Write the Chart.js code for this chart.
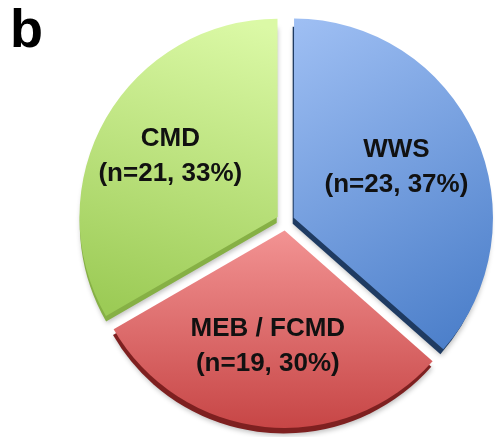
<!DOCTYPE html>
<html lang="en">
<head>
  <meta charset="UTF-8">
  <title>Pie b</title>
  <style>
    body {
      margin: 0;
      background: #fff;
    }

    .wrap {
      position: relative;
      width: 495px;
      height: 437px;
    }

    .panel-letter {
      position: absolute;
      left: 10px;
      top: -3px;
      font-family: 'Liberation Sans', Arial, sans-serif;
      font-weight: bold;
      font-size: 54px;
      color: #000;
    }
  </style>
</head>
<body>
  <div class="wrap">
    <canvas id="pie" width="495" height="437"></canvas>
    <div class="panel-letter">b</div>
  </div>

  <script src="https://cdn.jsdelivr.net/npm/chart.js"></script>
  <script>
    // data
    const categories = ['WWS', 'MEB / FCMD', 'CMD'];
    const counts = [23, 19, 21];
    const percents = [37, 30, 33];

    // colours: light (top) -> dark (bottom), and the side of each slice
    const lightColors = ['#a0c0f4', '#f39494', '#dbf9a6'];
    const darkColors = ['#4479c6', '#c64444', '#9ccb56'];
    const sideColors = ['#1f3b62', '#7e2020', '#86b045'];

    // chart.js v4 moves a slice by offset / 4
    const SLICE_OFFSET = 36;

    function sliceGradient(context) {
      const chart = context.chart;
      const area = chart.chartArea;
      if (!area) return lightColors[context.dataIndex];
      const i = context.dataIndex;
      let g;
      if (i === 0) {
        g = chart.ctx.createLinearGradient(area.left + 200, area.top, area.right, area.bottom - 60);
      } else if (i === 1) {
        g = chart.ctx.createLinearGradient(0, area.top + 200, 0, area.bottom);
      } else {
        g = chart.ctx.createLinearGradient(area.left + 150, area.top, area.left + 60, area.top + 300);
      }
      g.addColorStop(0, lightColors[i]);
      g.addColorStop(1, darkColors[i]);
      return g;
    }

    function sliceCenter(arc) {
      const p = arc.getProps(['x', 'y', 'startAngle', 'endAngle', 'outerRadius']);
      const off = (arc.options.offset || 0) / 4;
      const mid = (p.startAngle + p.endAngle) / 2;
      return {
        x: p.x + Math.cos(mid) * off,
        y: p.y + Math.sin(mid) * off,
        mid: mid,
        p: p
      };
    }

    // the darker side under each slice (3D look) and the labels
    const depthPlugin = {
      id: 'depth',
      beforeDatasetsDraw(chart) {
        const ctx = chart.ctx;
        const meta = chart.getDatasetMeta(0);
        meta.data.forEach((arc, i) => {
          const c = sliceCenter(arc);
          const cx = c.x - 1;
          const cy = c.y + 6;
          ctx.save();
          ctx.shadowColor = 'rgba(0,0,0,0.25)';
          ctx.shadowBlur = 5;
          ctx.shadowOffsetX = 1;
          ctx.shadowOffsetY = 2;
          ctx.beginPath();
          ctx.moveTo(cx, cy);
          ctx.arc(cx, cy, c.p.outerRadius, c.p.startAngle, c.p.endAngle);
          ctx.closePath();
          ctx.fillStyle = sideColors[i];
          ctx.fill();
          ctx.restore();
        });
      },
      afterDatasetsDraw(chart) {
        const ctx = chart.ctx;
        const meta = chart.getDatasetMeta(0);
        meta.data.forEach((arc, i) => {
          const c = sliceCenter(arc);
          const d = c.p.outerRadius * 0.6;
          const tx = c.x + Math.cos(c.mid) * d - 5;
          const ty = c.y + Math.sin(c.mid) * d - 2;
          ctx.save();
          ctx.fillStyle = '#111';
          ctx.font = 'bold 26px "Liberation Sans", Arial, sans-serif';
          ctx.textAlign = 'center';
          ctx.textBaseline = 'middle';
          ctx.fillText(categories[i], tx, ty - 17);
          ctx.fillText('(n=' + counts[i] + ', ' + percents[i] + '%)', tx, ty + 18);
          ctx.restore();
        });
      }
    };

    new Chart(document.getElementById('pie'), {
      type: 'pie',
      data: {
        labels: categories,
        datasets: [{
          data: counts,
          backgroundColor: sliceGradient,
          borderWidth: 0,
          offset: SLICE_OFFSET
        }]
      },
      options: {
        responsive: false,
        animation: false,
        radius: 197,
        layout: {
          padding: { left: 83, right: 7, top: 19, bottom: 13 }
        },
        plugins: {
          legend: { display: false },
          tooltip: { enabled: false }
        }
      },
      plugins: [depthPlugin]
    });
  </script>
</body>
</html>
